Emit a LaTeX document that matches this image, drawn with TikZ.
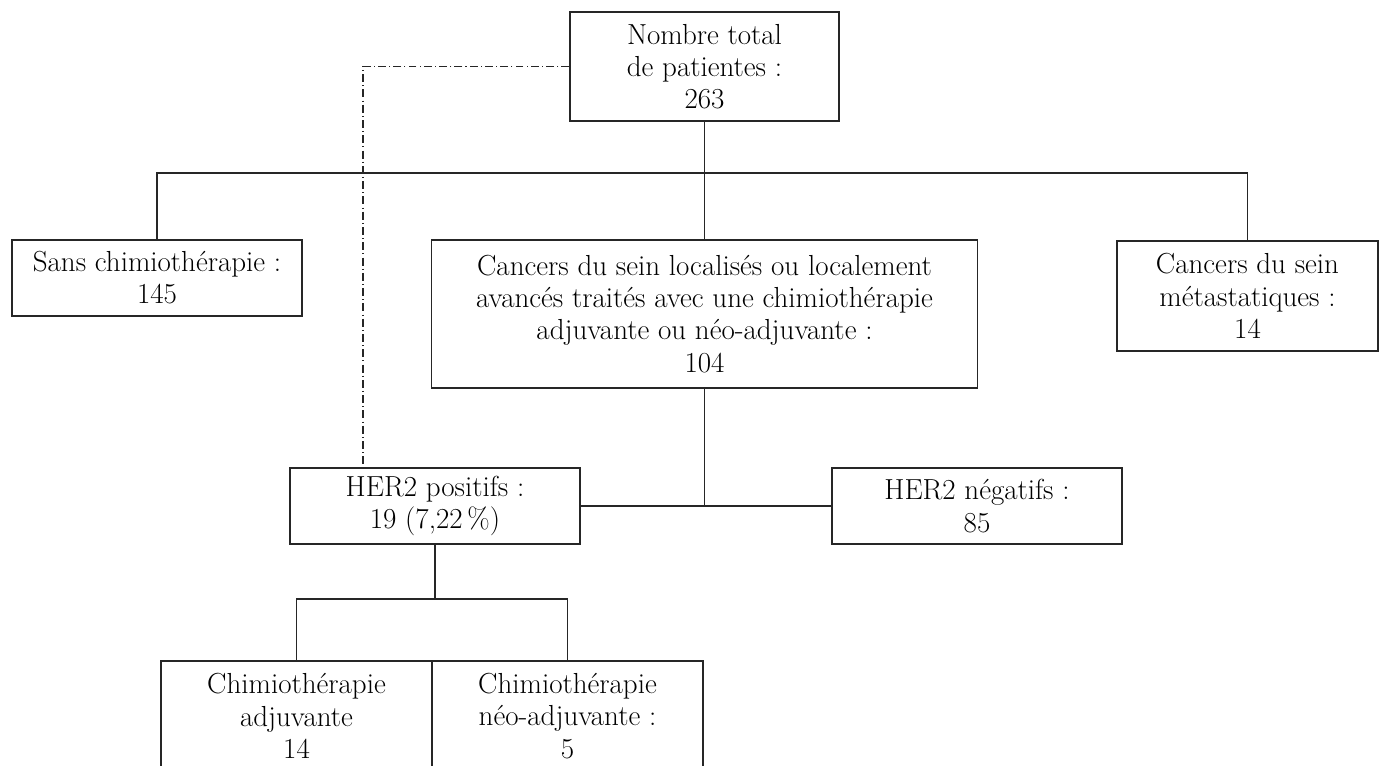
\documentclass[tikz,border=0pt]{standalone}
\usepackage{tikz}
\usetikzlibrary{positioning}
\tikzset{
  boite/.style={draw=black!85, line width=0.8pt, align=center, inner sep=0pt,
    text=black, font=\fontsize{16.5}{18.3}\selectfont},
  trait/.style={draw=black!85, line width=0.8pt},
  pointille/.style={draw=black!85, line width=0.6pt,
    dash pattern=on 4.5pt off 1.8pt on 0.6pt off 1.8pt}
}

\begin{document}
\begin{tikzpicture}[x=0.02cm, y=-0.02cm]
  \useasboundingbox (0,0) rectangle (1382,766);

  % Niveau 1
  \node[boite, minimum width=5.38cm, minimum height=2.18cm] (total) at (704.5,66.5)
    {Nombre total\\de patientes :\\263};

  % Niveau 2
  \node[boite, minimum width=5.8cm, minimum height=1.52cm] (sans) at (157,278)
    {Sans chimioth\'erapie :\\145};
  \node[boite, minimum width=10.92cm, minimum height=2.96cm] (loc) at (704.5,314)
    {Cancers du sein localis\'es ou localement\\avanc\'es trait\'es avec une chimioth\'erapie\\adjuvante ou n\'eo-adjuvante :\\104};
  \node[boite, minimum width=5.22cm, minimum height=2.2cm] (meta) at (1247.5,296)
    {Cancers du sein\\m\'etastatiques :\\14};

  % Niveau 3
  \node[boite, minimum width=5.8cm, minimum height=1.52cm] (pos) at (435,506)
    {HER2 positifs :\\19 (7,22\,\%)};
  \node[boite, minimum width=5.8cm, minimum height=1.52cm] (neg) at (977,506)
    {HER2 n\'egatifs :\\85};

  % Niveau 4
  \node[boite, minimum width=5.42cm, minimum height=2.2cm] (adj) at (296.5,716)
    {Chimioth\'erapie\\adjuvante\\14};
  \node[boite, minimum width=5.42cm, minimum height=2.2cm] (neo) at (567.5,716)
    {Chimioth\'erapie\\n\'eo-adjuvante :\\5};

  % Liaisons du haut
  \coordinate (bus) at (0,173);
  \draw[trait] (total.south) -- (loc.north);
  \draw[trait] (sans.north) |- (bus -| meta.north) -- (meta.north);

  % Liaisons HER2
  \draw[trait] (loc.south) -- (loc.south |- pos.east);
  \draw[trait] (pos.east) -- (neg.west);

  % Ligne mixte
  \coordinate (dd) at (363,0);
  \draw[pointille] (total.west) -| (dd |- pos.north);

  % Liaisons du bas
  \coordinate (fourche) at (0,599);
  \draw[trait] (pos.south) -- (pos.south |- fourche);
  \draw[trait] (adj.north) |- (fourche -| neo.north) -- (neo.north);
\end{tikzpicture}
\end{document}
